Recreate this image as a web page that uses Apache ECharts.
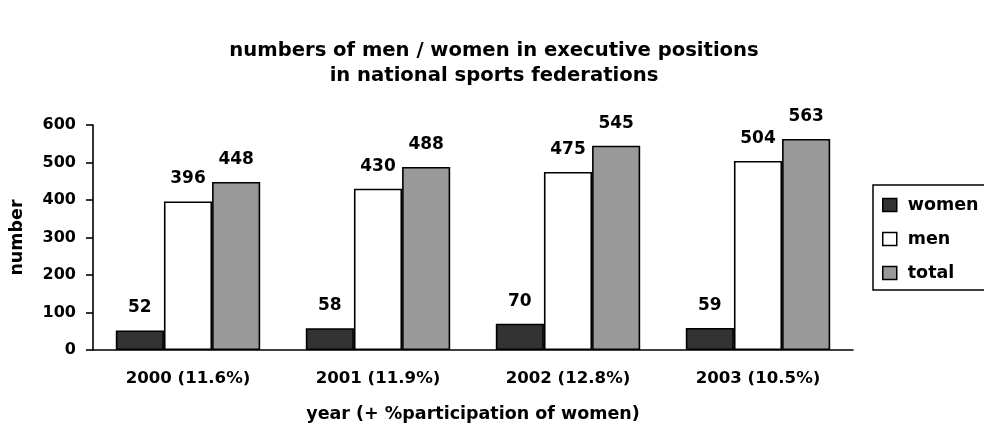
<!DOCTYPE html>
<html><head><meta charset="utf-8">
<script src="https://cdn.jsdelivr.net/npm/echarts@6/dist/echarts.min.js"></script>
<style>html,body{margin:0;padding:0;background:#fff}#c{width:984px;height:431px}</style>
</head><body><div id="c"></div>
<script>
const categories = ['2000 (11.6%)', '2001 (11.9%)', '2002 (12.8%)', '2003 (10.5%)'];
const women = [52, 58, 70, 59];
const men = [396, 430, 475, 504];
const total = [448, 488, 545, 563];
const yTicks = [0, 100, 200, 300, 400, 500, 600];

const font = 'DejaVu Sans, sans-serif';
const chart = echarts.init(document.getElementById('c'));
const lbl = {show: true, position: 'top', distance: 14, color: '#000', fontWeight: 'bold', fontSize: 17, fontFamily: font};
function mk(name, data, color) {
  return {name, type: 'bar', data, barGap: 0, barCategoryGap: '24%',
    itemStyle: {color, borderColor: '#000', borderWidth: 1.6}, label: lbl, animation: false};
}
chart.setOption({
  animation: false,
  title: {text: 'numbers of men / women in executive positions\nin national sports federations', left: 489, textAlign: 'center', top: 33,
    textStyle: {fontSize: 19.6, fontWeight: 'bold', fontFamily: font, color: '#000', lineHeight: 25}},
  grid: {left: 93, right: 131, top: 125, bottom: 81, outerBoundsMode: 'none', containLabel: false},
  legend: {orient: 'vertical', left: 873, top: 185, padding: [11, 30, 8, 9], itemGap: 16,
    borderColor: '#000', borderWidth: 1.5, itemWidth: 14, itemHeight: 13, icon: 'rect',
    itemStyle: {borderColor: '#000', borderWidth: 1.5},
    textStyle: {fontSize: 17.5, fontWeight: 'bold', fontFamily: font, color: '#000', padding: [0, 0, 0, 6]},
    data: ['women', 'men', 'total']},
  xAxis: {type: 'category', data: categories, name: 'year (+ %participation of women)', nameLocation: 'middle', nameGap: 55,
    nameTextStyle: {fontSize: 17.5, fontWeight: 'bold', fontFamily: font, color: '#000'},
    axisLine: {lineStyle: {color: '#000', width: 1.6}}, axisTick: {length: 6, lineStyle: {color: '#000', width: 1.6}},
    axisLabel: {fontSize: 16.6, fontWeight: 'bold', fontFamily: font, color: '#000', margin: 20}},
  yAxis: {type: 'value', min: 0, max: 600, interval: 100, name: 'number', nameLocation: 'middle', nameGap: 67,
    nameTextStyle: {fontSize: 17.5, fontWeight: 'bold', fontFamily: font, color: '#000'},
    axisLine: {show: true, lineStyle: {color: '#000', width: 1.6}}, axisTick: {show: true, length: 7, lineStyle: {color: '#000', width: 1.6}},
    splitLine: {show: false},
    axisLabel: {fontSize: 16, fontWeight: 'bold', fontFamily: font, color: '#000', margin: 17,
      formatter: v => yTicks.includes(v) ? String(v) : ''}},
  series: [mk('women', women, '#333333'), mk('men', men, '#ffffff'), mk('total', total, '#999999')]
});
</script></body></html>
